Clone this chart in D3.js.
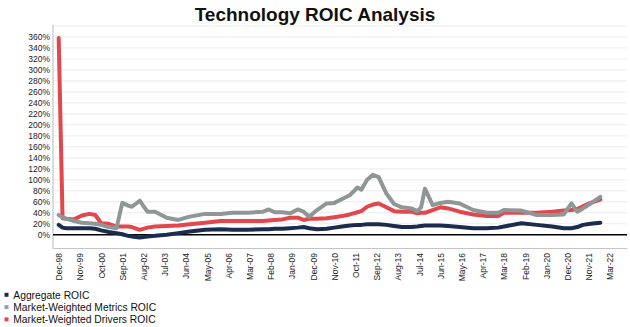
<!DOCTYPE html>
<html>
<head>
<meta charset="utf-8">
<script src="https://cdn.jsdelivr.net/npm/d3@7"></script>
<style>
  html, body { margin: 0; padding: 0; background: #fff; }
  svg { display: block; font-family: "Liberation Sans", Arial, sans-serif; }
</style>
</head>
<body>
<svg id="chart" width="630" height="327"></svg>
<script>
// ---- data (month index counted from Dec-98) ----
const tickLabels = ["Dec-98","Nov-99","Oct-00","Sep-01","Aug-02","Jul-03","Jun-04","May-05","Apr-06","Mar-07","Feb-08","Jan-09","Dec-09","Nov-10","Oct-11","Sep-12","Aug-13","Jul-14","Jun-15","May-16","Apr-17","Mar-18","Feb-19","Jan-20","Dec-20","Nov-21","Mar-22"];
const months = [0,2,4,8,12,16,19,22,26,30,33,36,38,42,46,50,56,62,68,76,84,90,98,106,109,112,116,120,124,127,130,134,139,143,147,151,155,157,160,163,166,170,174,178,183,186,188,190,194,198,202,208,215,222,228,231,240,248,256,262,266,269,272,276,281];
const aggregate = [18,13,12,12,12,12,11,8,5,3,1,-2,-3,-5,-3,-2,0,3,6,9,10,9,9,10,10,11,11,12,13,14,12,10,11,13,15,17,18,18,19,19,19,18,16,14,14,15,16,17,17,17,16,14,12,12,13,15,21,18,15,12,12,14,18,20,22];
const metrics = [36,32,29,25,22,21,20,18,14,12,58,53,51,62,42,42,31,27,33,38,38,40,40,42,46,41,41,39,46,42,33,45,57,58,65,72,86,82,100,109,105,75,56,50,48,43,50,84,54,58,60,57,45,40,40,45,44,36,36,37,57,42,48,57,69];
const drivers = [358,30,29,28,35,38,36,21,20,15,15,15,14,9,13,15,16,17,19,22,25,25,25,25,26,27,28,31,31,27,29,29,30,32,34,37,41,43,51,55,57,50,43,42,42,39,40,40,45,50,48,42,37,34,34,40,40,40,42,44,45,47,52,58,64];
const seriesNames = ["Aggregate ROIC","Market-Weighted Metrics ROIC","Market-Weighted Drivers ROIC"];
const yTicks = [0,20,40,60,80,100,120,140,160,180,200,220,240,260,280,300,320,340,360];
const gridValues = [20,40,60,80,100,120,140,160,180,200,220,240,260,280,300,320,340,360,380];

const colors = { agg: "#1c2b50", met: "#8f9696", drv: "#e3474e" };

const svg = d3.select("#chart");
const plotL = 53, plotR = 627, plotT = 26, plotB = 248.5;

const x = d3.scaleLinear().domain([0, 286]).range([58.7, 610]);
const y = d3.scaleLinear().domain([-25, 380]).range([plotB, plotT]);

// title
svg.append("text")
  .attr("x", 315).attr("y", 21)
  .attr("text-anchor", "middle")
  .attr("font-size", 19).attr("font-weight", "bold").attr("fill", "#111")
  .text("Technology ROIC Analysis");

// gridlines
svg.append("g").selectAll("line").data(gridValues).join("line")
  .attr("x1", plotL).attr("x2", plotR)
  .attr("y1", d => y(d)).attr("y2", d => y(d))
  .attr("stroke", "#ececec").attr("stroke-width", 1);

// y axis labels
const yAxis = svg.append("g").attr("transform", `translate(${plotL},0)`)
  .call(d3.axisLeft(y).tickValues(yTicks).tickFormat(d => d + "%").tickSize(0).tickPadding(3));
yAxis.select(".domain").remove();
yAxis.selectAll("text").attr("font-size", 8.5).attr("fill", "#222").attr("font-family", "Liberation Sans, Arial, sans-serif");

// axis frame lines
svg.append("line").attr("x1", plotL).attr("x2", plotL).attr("y1", 25).attr("y2", plotB)
  .attr("stroke", "#c4c4c4").attr("stroke-width", 1.2);
svg.append("line").attr("x1", plotL).attr("x2", plotR).attr("y1", plotB).attr("y2", plotB)
  .attr("stroke", "#c4c4c4").attr("stroke-width", 1.2);

// x axis labels
const xAxis = svg.append("g").attr("transform", `translate(0,${plotB})`)
  .call(d3.axisBottom(x).tickValues(tickLabels.map((d, i) => i * 11))
    .tickFormat((d, i) => tickLabels[i]).tickSize(0));
xAxis.select(".domain").remove();
xAxis.selectAll("text")
  .attr("transform", "rotate(-90)")
  .attr("x", -4.5).attr("y", 0).attr("dy", "0.35em")
  .attr("text-anchor", "end")
  .attr("font-size", 8.5).attr("fill", "#222")
  .attr("font-family", "Liberation Sans, Arial, sans-serif");

// zero line
svg.append("line").attr("x1", plotL).attr("x2", plotR).attr("y1", y(0)).attr("y2", y(0))
  .attr("stroke", "#000").attr("stroke-width", 1.4);

// lines
const line = vals => d3.line().x((d, i) => x(months[i])).y(d => y(d))(vals);
const drawOrder = [[drivers, colors.drv], [metrics, colors.met], [aggregate, colors.agg]];
drawOrder.forEach(([vals, c]) => {
  svg.append("path").attr("d", line(vals))
    .attr("fill", "none").attr("stroke", c).attr("stroke-width", 4)
    .attr("stroke-linejoin", "round").attr("stroke-linecap", "round");
});

// legend
const legColors = [colors.agg, "#9a9f9f", colors.drv];
const leg = svg.append("g");
seriesNames.forEach((n, i) => {
  const yy = 295 + i * 12.3;
  leg.append("rect").attr("x", 4.5).attr("y", yy - 2.2).attr("width", 4).attr("height", 4).attr("fill", legColors[i]);
  leg.append("text").attr("x", 13.3).attr("y", yy).attr("dy", "0.35em")
    .attr("font-size", 10.3).attr("fill", "#111").text(n);
});
</script>
</body>
</html>
